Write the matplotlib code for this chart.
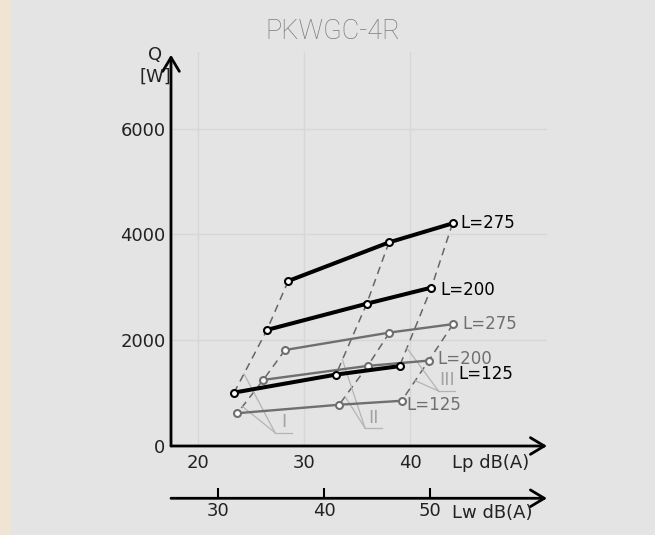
"""
PKWGC-4R capacity chart: heat output Q vs. sound level for three
fan speeds (I, II, III) and three lengths L, two coil variants.
"""

import numpy as np
import matplotlib
matplotlib.use("Agg")
import matplotlib.pyplot as plt

# ---- data ----
lengths = ["L=275", "L=200", "L=125"]
speeds = ["I", "II", "III"]

# upper (black) set
lp_black = [[28.5, 38.0, 44.0],
            [26.5, 35.9, 42.0],
            [23.4, 33.0, 39.0]]
q_black = [[3120, 3850, 4210],
           [2195, 2690, 2995],
           [1010, 1350, 1510]]

# lower (grey) set
lp_grey = [[28.2, 38.05, 44.05],
           [26.15, 36.0, 41.75],
           [23.7, 33.3, 39.2]]
q_grey = [[1815, 2145, 2305],
          [1250, 1515, 1615],
          [620, 780, 855]]

y_ticks = [0, 2000, 4000, 6000]
lp_ticks = [20, 30, 40]
lw_ticks = [30, 40, 50]
lw_offset = 8.1  # Lw = Lp + offset

BG = "#e3e4e3"
BLACK = "#000000"
GREY = "#6f6f6f"
DASH = "#666666"
LEADER = "#b4b4b4"
ROMAN = "#a3a3a3"

plt.rcParams["font.family"] = ["DejaVu Sans"]


def draw_set(ax, lp, q, color, lw, label_offsets):
    """Solid lines per length, dashed lines per speed, labels at the end."""
    lp = np.asarray(lp)
    q = np.asarray(q)
    # dashed iso-speed lines, drawn first so the curves sit on top
    for j in range(lp.shape[1]):
        ax.plot(lp[:, j], q[:, j], color=DASH, lw=1.1, ls=(0, (5, 3.5)),
                zorder=2)
    for i, name in enumerate(lengths):
        ax.plot(lp[i], q[i], color=color, lw=lw, marker="o", ms=5,
                mfc="white", mec=color, mew=1.5, zorder=4)
        dx, dy = label_offsets[i]
        ax.annotate(name, (lp[i, -1], q[i, -1]), xytext=(dx, dy),
                    textcoords="offset points", ha="left", va="center",
                    fontsize=12, color=color, zorder=5)


def leader(ax, lp, q, j, t):
    """Point at fraction t along the first dashed segment of speed j."""
    x0, x1 = lp[2][j], lp[1][j]
    y0, y1 = q[2][j], q[1][j]
    return x0 + t * (x1 - x0), y0 + t * (y1 - y0)


def main():
    fig = plt.figure(figsize=(6.55, 5.35), dpi=100, facecolor=BG)
    # beige strip on the left edge
    fig.patches.append(plt.Rectangle((0, 0), 11 / 655, 1, transform=fig.transFigure,
                                     facecolor="#f1e5d2", edgecolor="none"))

    ax = fig.add_axes([171 / 655, 1 - 446 / 535, 376 / 655, 394 / 535])
    ax.set_facecolor("none")
    ax.set_xlim(17.45, 52.9)
    ax.set_ylim(0, 7450)
    for s in ax.spines.values():
        s.set_visible(False)
    ax.set_xticks(lp_ticks)
    ax.set_yticks(y_ticks)
    ax.tick_params(length=0, labelsize=13, labelcolor="#222222")
    ax.tick_params(axis="x", pad=6)
    ax.tick_params(axis="y", pad=4)
    ax.grid(True, color="#d6d7d6", lw=1)
    ax.set_axisbelow(True)

    # axis arrows
    arrow = dict(arrowstyle="->,head_length=0.5,head_width=0.3", lw=2,
                 color="black", shrinkA=0, shrinkB=0, mutation_scale=20)
    ax.annotate("", xy=(0, 0.993), xytext=(0, 0), xycoords="axes fraction",
                arrowprops=arrow)
    ax.annotate("", xy=(1.0, 0), xytext=(0, 0), xycoords="axes fraction",
                arrowprops=arrow)
    ax.annotate("", xy=(1.0, -0.1327), xytext=(0, -0.1327),
                xycoords="axes fraction", arrowprops=arrow)

    # secondary Lw scale
    sec = ax.secondary_xaxis(-0.1327, functions=(lambda x: x + lw_offset,
                                                 lambda x: x - lw_offset))
    sec.spines["bottom"].set_visible(False)
    sec.set_xticks(lw_ticks)
    sec.tick_params(direction="in", length=7.5, width=1.5, labelsize=13,
                    pad=3, labelcolor="#222222")

    ax.text(0.747, -0.043, "Lp dB(A)", transform=ax.transAxes, ha="left",
            va="center", fontsize=13, color="#222222")
    ax.text(0.747, -0.170, "Lw dB(A)", transform=ax.transAxes, ha="left",
            va="center", fontsize=13, color="#222222")
    ax.text(-0.042, 0.9645, "Q\n[W]", transform=ax.transAxes, ha="center",
            va="center", fontsize=13, linespacing=1.25, color="#222222")

    fig.text(333 / 655, 1 - 31.3 / 535, "PKWGC-4R", ha="center", va="center",
             fontsize=19.5, color="#7b7b7b",
             family=["Roboto", "DejaVu Sans"], fontweight="light")

    draw_set(ax, lp_grey, q_grey, GREY, 1.7,
             [(6.5, 0), (6, 1.2), (3.5, -3)])
    draw_set(ax, lp_black, q_black, BLACK, 2.9,
             [(5.5, 0), (6.5, -1.5), (42, -6)])

    # speed leaders: (t black, t grey, apex x, apex y)
    leaders = [(0.30, 0.20, 27.26, 252),
               (0.21, 0.21, 35.75, 335),
               (0.23, 0.50, 42.67, 1041)]
    for j, (tb, tg, ax_x, ax_y) in enumerate(leaders):
        for pt in (leader(ax, lp_black, q_black, j, tb),
                   leader(ax, lp_grey, q_grey, j, tg)):
            ax.plot([pt[0], ax_x], [pt[1], ax_y], color=LEADER, lw=0.9, zorder=3)
        ax.plot([ax_x, ax_x + 1.6], [ax_y, ax_y], color=LEADER, lw=0.9, zorder=3)
        ax.text(ax_x + 0.8, ax_y + 30, speeds[j], ha="center", va="bottom",
                fontsize=13, color=ROMAN, zorder=3)

    fig.savefig("out.png", dpi=100, facecolor=BG)


if __name__ == "__main__":
    main()
